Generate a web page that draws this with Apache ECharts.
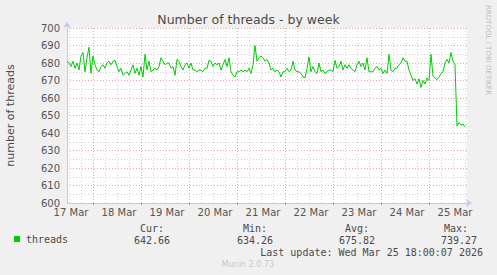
<!DOCTYPE html>
<html>
<head>
<meta charset="utf-8">
<script src="https://cdn.jsdelivr.net/npm/echarts@6/dist/echarts.min.js"></script>
<style>
html,body{margin:0;padding:0;background:#f0f0f0;}
#c{width:497px;height:275px;}
</style>
</head>
<body>
<div id="c"></div>
<script>
// Hourly samples starting 17 Mar 11:00 (201 hourly slots to 25 Mar 19:00)
var startLabel = '17 Mar 11:00';
var dayLabels = ['17 Mar','18 Mar','19 Mar','20 Mar','21 Mar','22 Mar','23 Mar','24 Mar','25 Mar'];
var yTicks = [600,610,620,630,640,650,660,670,680,690,700];
var threads = [
  681,680,678,681,677,680,676,684,686,675,
  683,689,674,684,679,676,675,678,679,677,
  680,681,679,681,681.5,678,675,677,673,674,
  675,673,676,679,674,677,673,678,672,685,
  676,681,675,676,677,676,678,683,681,679,
  680,680,677,678,673,682,681,678,676,679,
  680,677,680,676,676,675,676,676,675,677,
  677,681.5,681,678,680,679,680,676,679,682,
  678,683,675,673,672,675,675,676,675,676,
  675,677,674,679,690,681,683,684,683,681,
  682,680,676,677,675,676,675,672,675,675,
  677,675,676,681,676,675,675,674,672,671.5,
  677,683.5,675,678,675,674,680,675,676,674,
  675,676,676,675,681.5,677,678,681,676,679,
  677,679,677,676,675,679,681,678,680,676,
  683,675,675,675,677,678,676,677,674,676,
  674,685,676,675,677,677,679,680,683,681,
  681,676,673,670,671,668,671,666,670,668,
  671.5,670,685,672.5,671.5,670.5,672,674,675,680,
  682,680,686,681,679,644,646,644.5,645,643.5
];
var statNames = ['Cur:','Min:','Avg:','Max:'];
var statValues = ['642.66','634.26','675.82','739.27'];
var lastUpdate = 'Last update: Wed Mar 25 18:00:07 2026';

var slotCount = 201;
var hours = [];
var months = ['Jan','Feb','Mar'];
for (var i = 0; i < slotCount; i++) {
  var t = new Date(Date.UTC(2026, 2, 17, 11 + i));
  hours.push(t.getUTCDate() + ' ' + months[t.getUTCMonth()] + ' ' + (t.getUTCHours() < 10 ? '0' : '') + t.getUTCHours() + ':00');
}
function hourOf(idx){ return parseInt(hours[idx].split(' ')[2], 10); }
function isMidnight(idx){ return hourOf(idx) === 0; }
function isSixHour(idx){ return hourOf(idx) % 6 === 0 && hourOf(idx) !== 0; }
function isLabel(idx){ return hourOf(idx) === 13; }

var axisBlue = '#c4c8f0';
var mono = 'DejaVu Sans Mono';
var sans = 'DejaVu Sans';

var chart = echarts.init(document.getElementById('c'), null, {renderer: 'svg'});
var legendY1 = 228, legendY2 = 240;
var statX = [140, 243, 345, 444];
var valX = [134, 237, 339, 441];
var graphics = [
  {type:'text', x:248.5, y:19, style:{text:'Number of threads - by week', fill:'#4a4a4a', fontSize:12.5, fontFamily:sans, align:'center', verticalAlign:'middle'}},
  {type:'text', x:10, y:115.5, rotation:Math.PI/2, style:{text:'number of threads', fill:'#4a4a4a', fontSize:11, fontFamily:sans, align:'center', verticalAlign:'middle'}},
  {type:'text', x:488, y:5, rotation:-Math.PI/2, style:{text:'RRDTOOL / TOBI OETIKER', fill:'#bdbdbd', fontSize:7, fontFamily:sans, align:'left', verticalAlign:'middle'}},
  {type:'text', x:483, y:252, style:{text:lastUpdate, fill:'#4a4a4a', fontSize:10, fontFamily:mono, align:'right', verticalAlign:'middle'}},
  {type:'text', x:248, y:264, style:{text:'Munin 2.0.73', fill:'#c8c8c8', fontSize:8, fontFamily:sans, align:'center', verticalAlign:'middle'}}
];
for (var k = 0; k < statNames.length; k++) {
  graphics.push({type:'text', x:statX[k], y:legendY1, style:{text:statNames[k], fill:'#4a4a4a', fontSize:10, fontFamily:mono, align:'left', verticalAlign:'middle'}});
  graphics.push({type:'text', x:valX[k], y:legendY2, style:{text:statValues[k], fill:'#4a4a4a', fontSize:10, fontFamily:mono, align:'left', verticalAlign:'middle'}});
}

chart.setOption({
  backgroundColor:'#f0f0f0',
  animation:false,
  grid:{left:67, right:30, top:28, bottom:72, show:true, backgroundColor:'#ffffff', borderWidth:0},
  legend:{
    left:14, top:234, padding:0, itemWidth:6, itemHeight:6, icon:'rect',
    data:['threads'],
    textStyle:{fontFamily:mono, fontSize:10, color:'#4a4a4a', padding:[0,0,0,1]}
  },
  xAxis:[{
    type:'category', data:hours, boundaryGap:false, position:'bottom',
    axisLine:{show:true, lineStyle:{color:axisBlue, width:1}, symbol:['none','arrow'], symbolSize:[6,6], symbolOffset:[0,5]},
    axisTick:{show:true, interval:function(i){return isMidnight(i);}, length:2, inside:false, lineStyle:{color:'#e08080'}},
    axisLabel:{interval:function(i){return isLabel(i);}, margin:4, fontSize:10, fontFamily:sans, color:'#555',
      formatter:function(v){ var p = v.split(' '); return dayLabels[dayLabels.indexOf(p[0]+' '+p[1])]; }},
    splitLine:{show:true, interval:function(i){return isMidnight(i);}, lineStyle:{color:'#e4a8a8', type:[1,2], width:1}}
  },{
    type:'category', data:hours, boundaryGap:false, position:'top',
    axisLine:{show:false}, axisTick:{show:false}, axisLabel:{show:false},
    splitLine:{show:true, interval:function(i){return isSixHour(i);}, lineStyle:{color:'#d2d2d2', type:[1,2], width:1}}
  }],
  yAxis:{
    type:'value', min:yTicks[0], max:yTicks[yTicks.length-1], interval:10,
    axisLine:{show:true, lineStyle:{color:axisBlue, width:1}, symbol:['none','arrow'], symbolSize:[6,6], symbolOffset:[0,6]},
    axisTick:{show:false},
    axisLabel:{margin:7, fontSize:10, fontFamily:sans, color:'#555'},
    splitLine:{show:true, lineStyle:{color:'#e4a8a8', type:[1,2], width:1}},
    minorTick:{show:false, splitNumber:2},
    minorSplitLine:{show:true, lineStyle:{color:'#d2d2d2', type:[1,2], width:1}}
  },
  graphic:graphics,
  series:[{
    name:'threads', type:'line', xAxisIndex:0, data:threads, showSymbol:false, symbol:'none',
    lineStyle:{color:'#00cc00', width:1}, itemStyle:{color:'#00cc00'}
  }]
});
</script>
</body>
</html>
